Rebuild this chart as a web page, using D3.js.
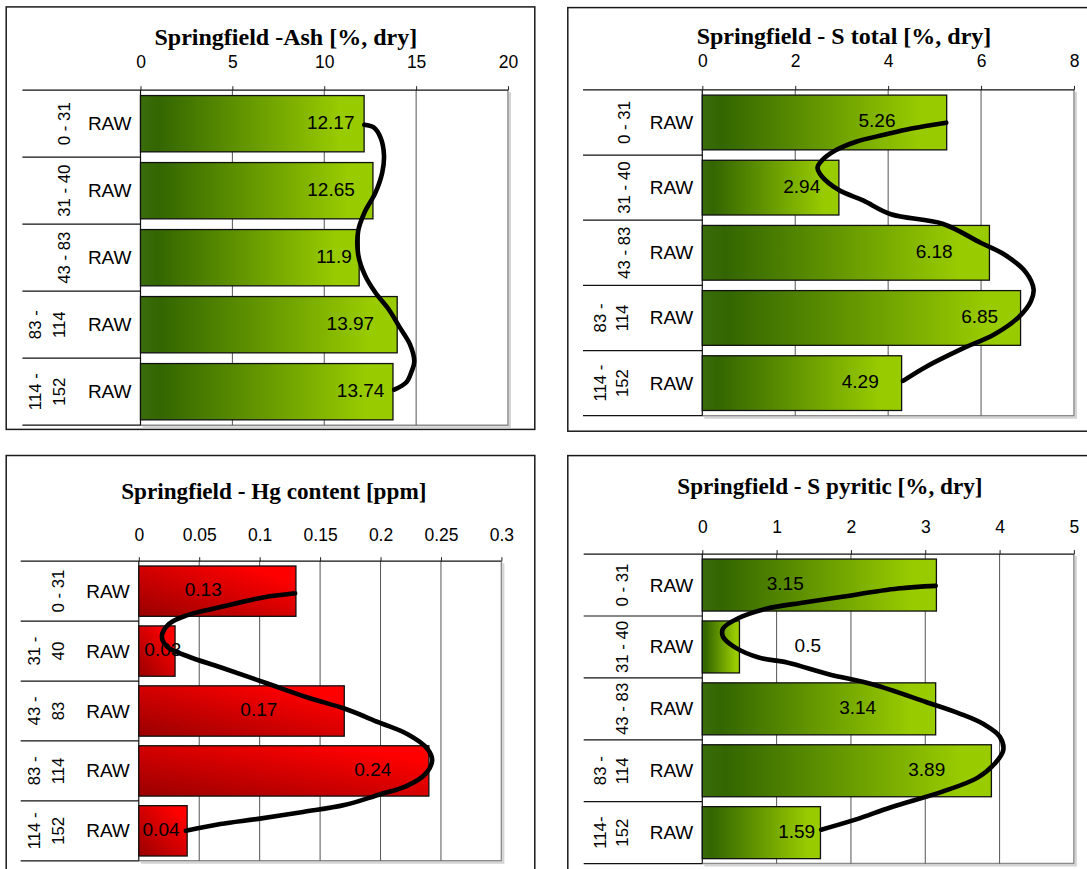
<!DOCTYPE html>
<html>
<head>
<meta charset="utf-8">
<script src="https://cdnjs.cloudflare.com/ajax/libs/d3/7.8.5/d3.min.js"></script>
<style>
  html, body { margin: 0; padding: 0; background: #fff; }
  svg { display: block; }
</style>
</head>
<body>
<svg id="chart" width="1087" height="869"></svg>
<script>
// ---- Data -----------------------------------------------------------
const sampleType = "RAW";

// Depth intervals (one entry per row, "\n" marks a wrapped label)
const depthLabelsAsh = ["0 - 31", "31 - 40", "43 - 83", "83 -\n114", "114 -\n152"];
const depthLabelsSTotal = ["0 - 31", "31 - 40", "43 - 83", "83 -\n114", "114 -\n152"];
const depthLabelsHg = ["0 - 31", "31 -\n40", "43 -\n83", "83 -\n114", "114 -\n152"];
const depthLabelsSPyr = ["0 - 31", "31 - 40", "43 - 83", "83 -\n114", "114-\n152"];

const ashValues = [12.17, 12.65, 11.9, 13.97, 13.74];
const ashTicks = [0, 5, 10, 15, 20];

const sTotalValues = [5.26, 2.94, 6.18, 6.85, 4.29];
const sTotalTicks = [0, 2, 4, 6, 8];

const hgValues = [0.13, 0.03, 0.17, 0.24, 0.04];
const hgTicks = [0, 0.05, 0.1, 0.15, 0.2, 0.25, 0.3];

const sPyrValues = [3.15, 0.5, 3.14, 3.89, 1.59];
const sPyrTicks = [0, 1, 2, 3, 4, 5];

// Hand-drawn profile lines: [value, depth position in rows (0 = top, 5 = bottom)]
const ashTrend = [
  [12.18, 0.515], [12.69, 0.555], [13.07, 0.71], [13.25, 0.967], [13.16, 1.224],
  [12.78, 1.533], [12.2, 1.82], [11.85, 2.097], [11.85, 2.457], [12.22, 2.764],
  [12.78, 3.02], [13.53, 3.28], [14.1, 3.536], [14.66, 3.79], [14.9, 4.05],
  [14.75, 4.2], [14.47, 4.36], [13.81, 4.47]
];
const sTotalTrend = [
  [5.25, 0.503], [4.5, 0.593], [3.91, 0.689], [3.31, 0.795], [2.87, 0.928],
  [2.57, 1.086], [2.48, 1.192], [2.57, 1.325], [2.94, 1.537], [3.46, 1.696],
  [4.06, 1.908], [5.17, 2.054], [5.99, 2.345], [6.51, 2.53], [6.96, 2.796],
  [7.13, 3.06], [7.07, 3.247], [6.81, 3.486], [6.29, 3.75], [5.54, 3.99],
  [4.8, 4.255], [4.32, 4.466]
];
const hgTrend = [
  [0.1293, 0.536], [0.1017, 0.609], [0.0675, 0.765], [0.039, 0.908], [0.0247, 1.052],
  [0.0191, 1.254], [0.0233, 1.426], [0.042, 1.599], [0.0675, 1.77], [0.1046, 2.028],
  [0.1416, 2.287], [0.1701, 2.459], [0.1986, 2.69], [0.2228, 2.891], [0.2384, 3.122],
  [0.2427, 3.322], [0.237, 3.553], [0.2214, 3.753], [0.1986, 3.897], [0.1701, 4.07],
  [0.1359, 4.185], [0.0989, 4.3], [0.0675, 4.386], [0.039, 4.5]
];
const sPyrTrend = [
  [3.14, 0.514], [2.63, 0.557], [1.84, 0.698], [1.37, 0.782], [0.86, 0.882],
  [0.49, 1.032], [0.28, 1.2], [0.28, 1.34], [0.44, 1.507], [0.77, 1.675],
  [1.14, 1.75], [1.7, 1.94], [2.3, 2.108], [3.0, 2.386], [3.47, 2.58],
  [3.79, 2.75], [4.0, 2.945], [4.05, 3.168], [3.93, 3.392], [3.7, 3.615],
  [3.23, 3.838], [2.54, 4.09], [2.07, 4.286], [1.6, 4.452]
];

// ---- Panel layout ---------------------------------------------------
const panels = [
  {
    title: "Springfield -Ash [%, dry]", titleSize: 24,
    values: ashValues, ticks: ashTicks, cats: depthLabelsAsh, trend: ashTrend, fill: "url(#gradGreen)",
    box: [6.2, 6.9, 534.8, 429.4], catLeft: 22.4, plot: [140.5, 90.2, 508, 425.2],
    titleX: 285.8, titleY: 44.8, tickY: 68.2,
    singleX: 64.5, doubleX: [35, 59],
    labelAt: [10.35, 10.37, 10.53, 11.42, 11.98]
  },
  {
    title: "Springfield - S total [%, dry]", titleSize: 24,
    values: sTotalValues, ticks: sTotalTicks, cats: depthLabelsSTotal, trend: sTotalTrend, fill: "url(#gradGreen)",
    box: [567.8, 7.6, 1100, 431.2], catLeft: 583, plot: [702.3, 89.9, 1074, 415.7],
    titleX: 844, titleY: 44.2, tickY: 67.4,
    singleX: 624.5, doubleX: [600.3, 622.8],
    labelAt: [3.76, 2.14, 4.99, 5.97, 3.4]
  },
  {
    title: "Springfield - Hg content [ppm]", titleSize: 23.2,
    values: hgValues, ticks: hgTicks, cats: depthLabelsHg, trend: hgTrend, fill: "url(#gradRed)",
    box: [6.2, 455.5, 534.8, 900], catLeft: 20.7, plot: [138.8, 561.2, 501.4, 860.8],
    titleX: 273.8, titleY: 499.2, tickY: 540.6,
    singleX: 58.5, doubleX: [34.4, 58.5],
    labelAt: [0.0533, 0.0199, 0.0993, 0.1936, 0.0184]
  },
  {
    title: "Springfield - S pyritic [%, dry]", titleSize: 23.2,
    values: sPyrValues, ticks: sPyrTicks, cats: depthLabelsSPyr, trend: sPyrTrend, fill: "url(#gradGreen)",
    box: [567.8, 455.6, 1100, 900], catLeft: 583.7, plot: [702.3, 554.1, 1073.9, 863.6],
    titleX: 829.9, titleY: 493.6, tickY: 532.6,
    singleX: 622, doubleX: [600.3, 622.8],
    labelAt: [1.116, 1.42, 2.09, 3.02, 1.27]
  }
];

// ---- Drawing --------------------------------------------------------
const svg = d3.select("#chart");
const defs = svg.append("defs");

const gGreen = defs.append("linearGradient").attr("id", "gradGreen")
  .attr("x1", 0).attr("y1", 0).attr("x2", 1).attr("y2", 0);
gGreen.append("stop").attr("offset", 0).attr("stop-color", "#3a6d0c");
gGreen.append("stop").attr("offset", 0.08).attr("stop-color", "#336600");
gGreen.append("stop").attr("offset", 0.9).attr("stop-color", "#99cc00");
gGreen.append("stop").attr("offset", 1).attr("stop-color", "#99cc00");

const gRed = defs.append("linearGradient").attr("id", "gradRed")
  .attr("x1", 0).attr("y1", 1).attr("x2", 1).attr("y2", 0);
gRed.append("stop").attr("offset", 0).attr("stop-color", "#990000");
gRed.append("stop").attr("offset", 0.85).attr("stop-color", "#ff0000");
gRed.append("stop").attr("offset", 1).attr("stop-color", "#ff0000");

const sansFont = "'Liberation Sans', Arial, sans-serif";
const serifFont = "'Liberation Serif', 'Times New Roman', serif";

panels.forEach(p => {
  const g = svg.append("g");
  const [pl, pt, pr, pb] = p.plot;

  // outer frame
  g.append("rect")
    .attr("x", p.box[0]).attr("y", p.box[1])
    .attr("width", p.box[2] - p.box[0]).attr("height", p.box[3] - p.box[1])
    .attr("fill", "#fff").attr("stroke", "#1a1a1a").attr("stroke-width", 1.5);

  const x = d3.scaleLinear().domain([p.ticks[0], p.ticks[p.ticks.length - 1]]).range([pl, pr]);
  const y = d3.scaleBand().domain(d3.range(p.values.length)).range([pt, pb])
    .paddingInner(0.16).paddingOuter(0.08);
  const yRow = d3.scaleLinear().domain([0, p.values.length]).range([pt, pb]);

  // title
  g.append("text")
    .attr("x", p.titleX).attr("y", p.titleY)
    .attr("text-anchor", "middle")
    .attr("font-family", serifFont).attr("font-weight", "bold")
    .attr("font-size", p.titleSize).attr("fill", "#000")
    .text(p.title);

  // plot-area shadow and border (right / bottom)
  g.append("path")
    .attr("d", `M${pr + 2},${pt + 2}V${pb + 2}H${pl + 2}`)
    .attr("fill", "none").attr("stroke", "#d4d4d4").attr("stroke-width", 2);
  g.append("path")
    .attr("d", `M${pr},${pt}V${pb}H${pl}`)
    .attr("fill", "none").attr("stroke", "#8c8c8c").attr("stroke-width", 1.5);

  // vertical gridlines
  g.selectAll(".grid").data(p.ticks.slice(1, -1)).join("line")
    .attr("x1", d => x(d)).attr("x2", d => x(d))
    .attr("y1", pt).attr("y2", pb)
    .attr("stroke", "#555").attr("stroke-width", 1);

  // top value axis
  const axis = d3.axisTop(x).tickValues(p.ticks).tickSize(4).tickSizeOuter(0)
    .tickPadding(pt - p.tickY - 4).tickFormat(d => String(d));
  const ax = g.append("g").attr("transform", `translate(0,${pt})`).call(axis);
  ax.select(".domain").remove();
  ax.selectAll(".tick line").attr("stroke", "#222");
  ax.selectAll(".tick text")
    .attr("font-family", sansFont).attr("font-size", 17.5).attr("fill", "#000");

  // row separators in the category column and top axis line
  g.selectAll(".sep").data(d3.range(p.values.length + 1)).join("line")
    .attr("x1", p.catLeft).attr("x2", (d) => d === 0 ? pr : pl)
    .attr("y1", d => yRow(d)).attr("y2", d => yRow(d))
    .attr("stroke", "#111").attr("stroke-width", 1.2);
  g.append("line")
    .attr("x1", pl).attr("x2", pl).attr("y1", pt).attr("y2", pb)
    .attr("stroke", "#111").attr("stroke-width", 1.2);

  // bars
  g.selectAll(".bar").data(p.values).join("rect")
    .attr("x", x(0)).attr("y", (d, i) => y(i))
    .attr("width", d => x(d) - x(0)).attr("height", y.bandwidth())
    .attr("fill", p.fill).attr("stroke", "#111").attr("stroke-width", 1.3);

  // value labels
  g.selectAll(".val").data(p.values).join("text")
    .attr("x", (d, i) => x(p.labelAt[i]))
    .attr("y", (d, i) => y(i) + y.bandwidth() / 2 - 1.5)
    .attr("text-anchor", "middle").attr("dominant-baseline", "central")
    .attr("font-family", sansFont).attr("font-size", 19).attr("fill", "#000")
    .text(d => String(d));

  // sample type labels
  g.selectAll(".raw").data(p.values).join("text")
    .attr("x", pl - 9)
    .attr("y", (d, i) => yRow(i + 0.5))
    .attr("text-anchor", "end").attr("dominant-baseline", "central")
    .attr("font-family", sansFont).attr("font-size", 19).attr("fill", "#000")
    .text(sampleType);

  // rotated depth labels
  p.cats.forEach((label, i) => {
    const lines = label.split("\n");
    const cy = yRow(i + 0.5);
    lines.forEach((ln, k) => {
      const lx = lines.length === 1 ? p.singleX : p.doubleX[k];
      g.append("text")
        .attr("transform", `translate(${lx},${cy}) rotate(-90)`)
        .attr("text-anchor", "middle").attr("dominant-baseline", "central")
        .attr("font-family", sansFont).attr("font-size", 16.8).attr("fill", "#000")
        .text(ln);
    });
  });

  // hand-drawn profile line
  const line = d3.line()
    .x(d => x(d[0])).y(d => yRow(d[1]))
    .curve(d3.curveCatmullRom.alpha(0.5));
  g.append("path")
    .datum(p.trend)
    .attr("d", line)
    .attr("fill", "none").attr("stroke", "#000").attr("stroke-width", 4.6)
    .attr("stroke-linejoin", "round").attr("stroke-linecap", "round");
});
</script>
</body>
</html>
